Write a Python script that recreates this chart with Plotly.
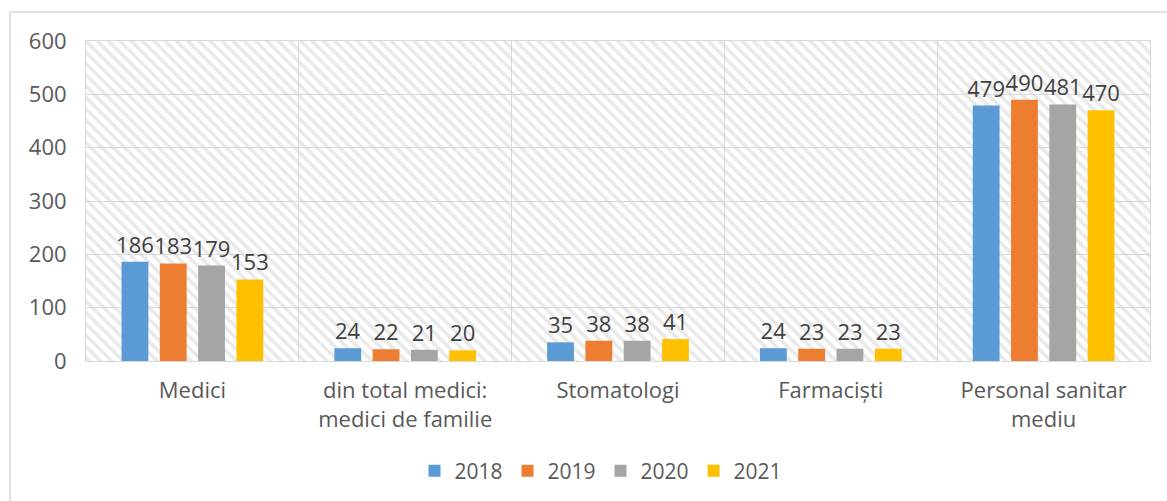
import plotly.graph_objects as go

categories = ["Medici", "din total medici:<br>medici de familie", "Stomatologi", "Farmaciști", "Personal sanitar<br>mediu"]
years = ["2018", "2019", "2020", "2021"]
values_2018 = [186, 24, 35, 24, 479]
values_2019 = [183, 22, 38, 23, 490]
values_2020 = [179, 21, 38, 23, 481]
values_2021 = [153, 20, 41, 23, 470]
series = [values_2018, values_2019, values_2020, values_2021]
colors = ["#5B9BD5", "#ED7D31", "#A5A5A5", "#FFC000"]
y_ticks = [0, 100, 200, 300, 400, 500, 600]

FONT = "Open Sans"
xpos = list(range(len(categories)))

fig = go.Figure()

# hatched plot-area background on base axes
fig.add_trace(go.Bar(
    x=[(len(categories) - 1) / 2], y=[y_ticks[-1]], width=[len(categories)],
    marker=dict(color="rgba(0,0,0,0)", line=dict(width=0),
                pattern=dict(shape="\\", fgcolor="#d4d4d4", bgcolor="rgba(0,0,0,0)",
                             size=8, solidity=0.45, fillmode="overlay")),
    showlegend=False, hoverinfo="skip", xaxis="x", yaxis="y",
))

for name, vals, col in zip(years, series, colors):
    fig.add_trace(go.Bar(
        name=name, x=xpos, y=vals, marker=dict(color=col, line=dict(width=0)),
        text=vals, textposition="outside", cliponaxis=False, constraintext="none",
        textfont=dict(family=FONT, size=22, color="#404040"),
        xaxis="x2", yaxis="y2",
    ))

fig.update_layout(
    width=1167, height=501,
    margin=dict(l=86, r=17, t=41, b=140, autoexpand=False),
    paper_bgcolor="white", plot_bgcolor="white",
    barmode="group", bargap=0.28, bargroupgap=0.30,
    font=dict(family=FONT, size=22, color="#595959"),
    xaxis=dict(range=[-0.5, len(categories) - 0.5], tickvals=xpos, ticktext=categories,
               showgrid=False, zeroline=False, showline=True, mirror=True, automargin=False,
               linecolor="#d9d9d9", linewidth=1, ticks="", ticklabelstandoff=10,
               minor=dict(showgrid=True, tick0=0.5, dtick=1, gridcolor="#d9d9d9", gridwidth=1),
               tickfont=dict(family=FONT, size=22, color="#595959")),
    yaxis=dict(range=[0, 600], tickvals=y_ticks, showgrid=True, gridcolor="#d9d9d9",
               gridwidth=1, zeroline=False, showline=True, mirror=True, automargin=False,
               linecolor="#d9d9d9", linewidth=1, ticks="", ticklabelstandoff=14,
               tickfont=dict(family=FONT, size=22, color="#595959")),
    xaxis2=dict(range=[-0.5, len(categories) - 0.5], overlaying="x", visible=False),
    yaxis2=dict(range=[0, 600], overlaying="y", visible=False),
    legend=dict(orientation="h", x=0.484, xanchor="center", y=-0.28, yanchor="top",
                font=dict(family=FONT, size=21, color="#595959"),
                traceorder="normal", itemwidth=30, tracegroupgap=0),
    showlegend=True,
    shapes=[dict(type="rect", xref="paper", yref="paper",
                 x0=-76 / 1064, x1=1.1, y0=-0.6, y1=(361 - 12) / 320,
                 line=dict(color="#d9d9d9", width=1.5), fillcolor="rgba(0,0,0,0)",
                 layer="below")],
)

fig.write_html("out.html", config={"displayModeBar": False},
               post_script="document.body.style.margin='0';")
